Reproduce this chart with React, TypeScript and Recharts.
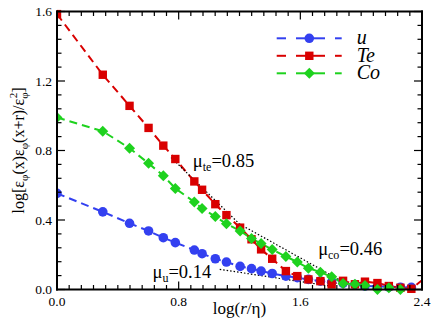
import React from "react";
import { LineChart, Line, XAxis, YAxis, ReferenceDot } from "recharts";

// log(r/eta) sample positions
const logR = [
  0, 0.301, 0.477, 0.602, 0.699, 0.778, 0.903, 0.954, 1.041, 1.114, 1.204,
  1.279, 1.342, 1.415, 1.505, 1.58, 1.653, 1.732, 1.806, 1.881, 1.959, 2.025,
  2.107, 2.182, 2.258, 2.33, 2.41,
];

const uVals = [
  0.553, 0.447, 0.381, 0.337, 0.298, 0.27, 0.227, 0.206, 0.177, 0.158, 0.133,
  0.12, 0.106, 0.092, 0.077, 0.068, 0.058, 0.048, 0.042, 0.036, 0.029, 0.02,
  0.019, 0.014, 0.013, 0.012, null,
];

const teVals = [
  1.585, 1.236, 1.057, 0.93, 0.828, 0.751, 0.622, 0.574, 0.491, 0.428, 0.356,
  0.289, 0.231, 0.177, 0.106, 0.077, 0.058, 0.048, 0.029, 0.05, 0.03, 0.045,
  0.037, 0.02, 0.01, 0.004, 0.06,
];

const coVals = [
  0.99, 0.911, 0.813, 0.726, 0.655, 0.582, 0.504, 0.466, 0.42, 0.378, 0.337,
  0.293, 0.265, 0.23, 0.19, 0.158, 0.123, 0.1, 0.073, 0.035, 0.03, 0.023, 0.0,
  0.01, 0.0, null, null,
];

// dotted power-law fits
const fitTe = [
  { x: 0.75, y: 0.76 },
  { x: 1.2, y: 0.377 },
];
const fitCo = [
  { x: 1.2, y: 0.377 },
  { x: 1.88, y: 0.045 },
];
const fitU = [
  { x: 1.07, y: 0.116 },
  { x: 1.81, y: 0.018 },
];

const muLabels = [
  { x: 0.893, y: 0.705, sub: "te", text: "=0.85" },
  { x: 1.717, y: 0.196, sub: "co", text: "=0.46" },
  { x: 0.628, y: 0.069, sub: "u", text: "=0.14" },
];

const X_MAX = 2.4;
const Y_MAX = 1.6;
const xMajor = [0, 0.8, 1.6, 2.4];
const yMajor = [0, 0.4, 0.8, 1.2, 1.6];
const xTicks = Array.from({ length: 31 }, (_, i) => Math.round(i * 8) / 100);
const yTicks = Array.from({ length: 21 }, (_, i) => Math.round(i * 8) / 100);

const W = 436;
const H = 327;
const PLOT = { left: 57, top: 11.5, width: 365, height: 278 };

const BLUE = "#3340f0";
const RED = "#d90000";
const GREEN = "#1ed21e";
const FONT = "Liberation Serif";

const rows = logR.map((x, i) => ({
  x,
  u: uVals[i],
  te: teVals[i],
  co: coVals[i],
}));

const isMajor = (v: number, list: number[]) =>
  list.some((m) => Math.abs(m - v) < 1e-6);

const inside = (p: any) => p.cy != null && p.payload && p.payload.x <= X_MAX;

const circleDot = (p: any) =>
  !inside(p) ? (
    <g key={p.index} />
  ) : (
    <circle key={p.index} cx={p.cx} cy={p.cy} r={4.8} fill={BLUE} />
  );

const squareDot = (p: any) =>
  !inside(p) ? (
    <g key={p.index} />
  ) : (
    <rect key={p.index} x={p.cx - 4.2} y={p.cy - 4.2} width={8.4} height={8.4} fill={RED} />
  );

const diamondDot = (p: any) =>
  !inside(p) ? (
    <g key={p.index} />
  ) : (
    <polygon
      key={p.index}
      points={`${p.cx},${p.cy - 5.5} ${p.cx + 5.5},${p.cy} ${p.cx},${p.cy + 5.5} ${p.cx - 5.5},${p.cy}`}
      fill={GREEN}
    />
  );

const BottomTick = ({ x, y, payload }: any) =>
  isMajor(payload.value, xMajor) ? (
    <text x={x} y={y + 16} textAnchor="middle" fontSize={13.5} style={{ fontFamily: FONT }} fill="#000">
      {payload.value.toFixed(1)}
    </text>
  ) : (
    <g />
  );

const LeftTick = ({ x, y, payload }: any) =>
  isMajor(payload.value, yMajor) ? (
    <text x={x - 5} y={y + 4.5} textAnchor="end" fontSize={13.5} style={{ fontFamily: FONT }} fill="#000">
      {payload.value.toFixed(1)}
    </text>
  ) : (
    <g />
  );

// frame and inward ticks as filled bars (no strokes)
const FrameBox = () => {
  const { left, top, width, height } = PLOT;
  const right = left + width;
  const bottom = top + height;
  const px = (v: number) => left + (v / X_MAX) * width;
  const py = (v: number) => bottom - (v / Y_MAX) * height;
  const k = 1.2;
  return (
    <svg width={W} height={H} style={{ position: "absolute", left: 0, top: 0, pointerEvents: "none" }}>
      {xTicks.map((t) => {
        const len = isMajor(t, xMajor) ? 8 : 4.5;
        return (
          <g key={`x${t}`}>
            <rect x={px(t) - k / 2} y={bottom - len} width={k} height={len} fill="#000" />
            <rect x={px(t) - k / 2} y={top} width={k} height={len} fill="#000" />
          </g>
        );
      })}
      {yTicks.map((t) => {
        const len = isMajor(t, yMajor) ? 8 : 4.5;
        return (
          <g key={`y${t}`}>
            <rect x={left} y={py(t) - k / 2} width={len} height={k} fill="#000" />
            <rect x={right - len} y={py(t) - k / 2} width={len} height={k} fill="#000" />
          </g>
        );
      })}
      <rect x={left - 1} y={top - 1} width={width + 2} height={2} fill="#000" />
      <rect x={left - 1} y={bottom - 1} width={width + 2} height={2} fill="#000" />
      <rect x={left - 1} y={top - 1} width={2} height={height + 2} fill="#000" />
      <rect x={right - 1} y={top - 1} width={2} height={height + 2} fill="#000" />
    </svg>
  );
};

const legendItems = [
  { name: "u", color: BLUE, dot: circleDot },
  { name: "Te", color: RED, dot: squareDot },
  { name: "Co", color: GREEN, dot: diamondDot },
];

const LegendBox = () => (
  <svg width={150} height={60} style={{ position: "absolute", left: 270, top: 28 }}>
    {legendItems.map((it, i) => {
      const cy = 10.3 + i * 17.5;
      return (
        <g key={it.name}>
          <line x1={6.7} x2={16} y1={cy} y2={cy} stroke={it.color} strokeWidth={2} />
          <line x1={26} x2={55} y1={cy} y2={cy} stroke={it.color} strokeWidth={2} />
          <line x1={65} x2={71.7} y1={cy} y2={cy} stroke={it.color} strokeWidth={2} />
          {it.dot({ cx: 39.3, cy, index: i, payload: { x: 0 } })}
          <text x={86.7} y={cy + 6} fontSize={20} fontStyle="italic" style={{ fontFamily: FONT }} fill="#000">
            {it.name}
          </text>
        </g>
      );
    })}
  </svg>
);

const muLabel = (sub: string, text: string) => (props: any) => {
  const vb = props.viewBox;
  return (
    <text x={vb.x} y={vb.y} fontSize={18.5} style={{ fontFamily: FONT }} fill="#000">
      <tspan>μ</tspan>
      <tspan fontSize={12} dy={4}>
        {sub}
      </tspan>
      <tspan dy={-4}>{text}</tspan>
    </text>
  );
};

const XTitle = (props: any) => {
  const vb = props.viewBox;
  return (
    <text x={vb.x + vb.width / 2} y={vb.y + 24} textAnchor="middle" fontSize={17} style={{ fontFamily: FONT }} fill="#000">
      log(<tspan fontStyle="italic">r</tspan>/η)
    </text>
  );
};

const YTitle = (props: any) => {
  const vb = props.viewBox;
  const cx = 24;
  const cy = vb.y + vb.height / 2;
  return (
    <text
      x={cx}
      y={cy}
      transform={`rotate(-90, ${cx}, ${cy})`}
      textAnchor="middle"
      fontSize={16}
      style={{ fontFamily: FONT }}
      fill="#000"
    >
      log[ε<tspan fontSize={11} dy={4}>φ</tspan>
      <tspan dy={-4}>(x)ε</tspan>
      <tspan fontSize={11} dy={4}>φ</tspan>
      <tspan dy={-4}>(x+r)/ε</tspan>
      <tspan fontSize={11} dy={4}>φ</tspan>
      <tspan fontSize={11} dx={-6} dy={-11}>2</tspan>
      <tspan dy={7}>]</tspan>
    </text>
  );
};

export default function App() {
  return (
    <div style={{ position: "absolute", left: 0, top: 0, width: W, height: H, background: "#fff" }}>
      <LineChart
        width={W}
        height={H}
        data={rows}
        margin={{ top: PLOT.top, right: W - PLOT.left - PLOT.width, bottom: 0, left: 0 }}
      >
        <XAxis
          dataKey="x"
          type="number"
          domain={[0, X_MAX]}
          allowDataOverflow
          ticks={xTicks}
          interval={0}
          tick={<BottomTick />}
          tickLine={false}
          tickSize={0}
          tickMargin={0}
          height={H - PLOT.top - PLOT.height}
          axisLine={false}
          label={{ content: XTitle }}
        />
        <YAxis
          type="number"
          domain={[0, Y_MAX]}
          ticks={yTicks}
          interval={0}
          tick={<LeftTick />}
          tickLine={false}
          tickSize={0}
          tickMargin={0}
          width={PLOT.left}
          axisLine={false}
          label={{ content: YTitle }}
        />
        <Line
          dataKey="u"
          stroke={BLUE}
          strokeWidth={2}
          strokeDasharray="8 5"
          dot={circleDot}
          activeDot={false}
          isAnimationActive={false}
        />
        <Line
          dataKey="te"
          stroke={RED}
          strokeWidth={2}
          strokeDasharray="8 5"
          dot={squareDot}
          activeDot={false}
          isAnimationActive={false}
        />
        <Line
          dataKey="co"
          stroke={GREEN}
          strokeWidth={2}
          strokeDasharray="8 5"
          dot={diamondDot}
          activeDot={false}
          isAnimationActive={false}
        />
        {[fitTe, fitCo, fitU].map((d, i) => (
          <Line
            key={i}
            data={d}
            dataKey="y"
            stroke="#000"
            strokeWidth={1.2}
            strokeDasharray="1.5 2"
            dot={false}
            activeDot={false}
            legendType="none"
            isAnimationActive={false}
          />
        ))}
        {muLabels.map((m) => (
          <ReferenceDot
            key={m.sub}
            x={m.x}
            y={m.y}
            r={0}
            stroke="none"
            fill="none"
            label={muLabel(m.sub, m.text)}
          />
        ))}
      </LineChart>
      <FrameBox />
      <LegendBox />
    </div>
  );
}
